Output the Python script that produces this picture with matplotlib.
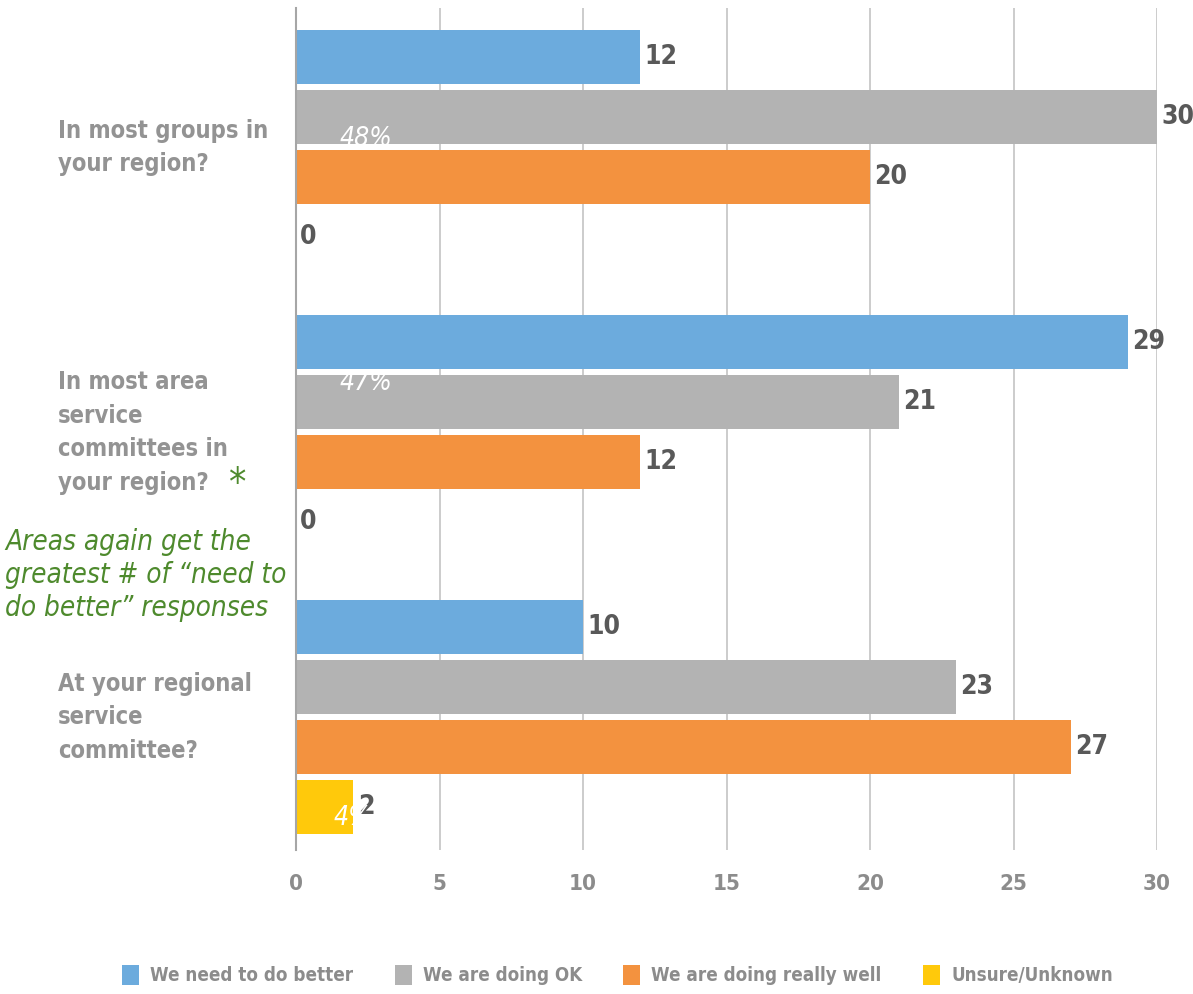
import matplotlib
matplotlib.use("Agg")
import matplotlib.pyplot as plt
from matplotlib.patches import Patch
import matplotlib.transforms as mtransforms

# data
questions = ["In most groups in\nyour region?",
             "In most area\nservice\ncommittees in\nyour region?",
             "At your regional\nservice\ncommittee?"]
series = ["We need to do better", "We are doing OK",
          "We are doing really well", "Unsure/Unknown"]
need_better = [12, 29, 10]
doing_ok = [30, 21, 23]
really_well = [20, 12, 27]
unsure = [0, 0, 2]
pct_notes = ["48%", "47%", "4%"]
colors = ["#6CABDD", "#B3B3B3", "#F3923F", "#FFC90B"]

plt.rcParams["font.family"] = ["DejaVu Sans"]
plt.rcParams["font.stretch"] = "condensed"

fig = plt.figure(figsize=(11.93, 9.94), dpi=100)
ax = fig.add_axes([296/1193, 1-850/994, (1157-296)/1193, (850-8)/994])

group_step = 4.75
values = [need_better, doing_ok, really_well, unsure]
for j, (vals, col) in enumerate(zip(values, colors)):
    ys = [g*group_step + j for g in range(len(questions))]
    ax.barh(ys, vals, height=0.9, color=col, zorder=3)
    for y, v in zip(ys, vals):
        ax.text(v + 0.15, y, str(v), va="center", ha="left", fontsize=19,
                fontweight="bold", color="#595959", zorder=4)

ax.set_xlim(0, 30)
ax.set_ylim(2*group_step + 3 + 0.71, -0.825)
ax.set_xticks(range(0, 31, 5))
ax.set_yticks([])
ax.grid(axis="x", color="#C8C8C8", linewidth=1.3, zorder=0)
for s in ["top", "right", "bottom"]:
    ax.spines[s].set_visible(False)
ax.spines["left"].set_color("#A6A6A6")
ax.spines["left"].set_linewidth(1.5)
ax.spines["left"].set_zorder(5)
ax.tick_params(axis="x", length=0, pad=17, labelsize=16, labelcolor="#8C8C8C")
for lbl in ax.get_xticklabels():
    lbl.set_fontweight("bold")

# question labels on the left
trans = mtransforms.blended_transform_factory(fig.transFigure, ax.transData)
for g, q in enumerate(questions):
    ax.text(58/1193, g*group_step + 1.5, q, transform=trans, ha="left",
            va="center", fontsize=17, fontweight="bold", color="#939393",
            linespacing=1.5, clip_on=False)

# handwritten notes
note_y = [1.36, 0.68, 3.17]
note_x = [1.53, 1.53, 1.3]
for g, (n, x, y) in enumerate(zip(pct_notes, note_x, note_y)):
    ax.text(x, g*group_step + y, n, ha="left", va="center", fontsize=19,
            style="italic", color="white", zorder=6)
ax.text(229/1193, 1 - 484/994, "*", transform=fig.transFigure, fontsize=28,
        color="#4E8A2D", va="center", ha="left")
fig.text(5/1193, 1 - 575/994,
         "Areas again get the\ngreatest # of \u201cneed to\ndo better\u201d responses",
         ha="left", va="center", fontsize=20, style="italic",
         color="#4E8A2D", linespacing=1.25)

handles = [Patch(facecolor=c, edgecolor="none") for c in colors]
leg = fig.legend(handles, series, loc="center", bbox_to_anchor=(0.5176, 1 - 975/994),
                 ncol=4, frameon=False, fontsize=13.5, handlelength=0.9,
                 handleheight=1.3, handletextpad=0.6, columnspacing=2.2)
for t in leg.get_texts():
    t.set_color("#8C8C8C")
    t.set_fontweight("bold")

fig.savefig("out.png", dpi=100)
